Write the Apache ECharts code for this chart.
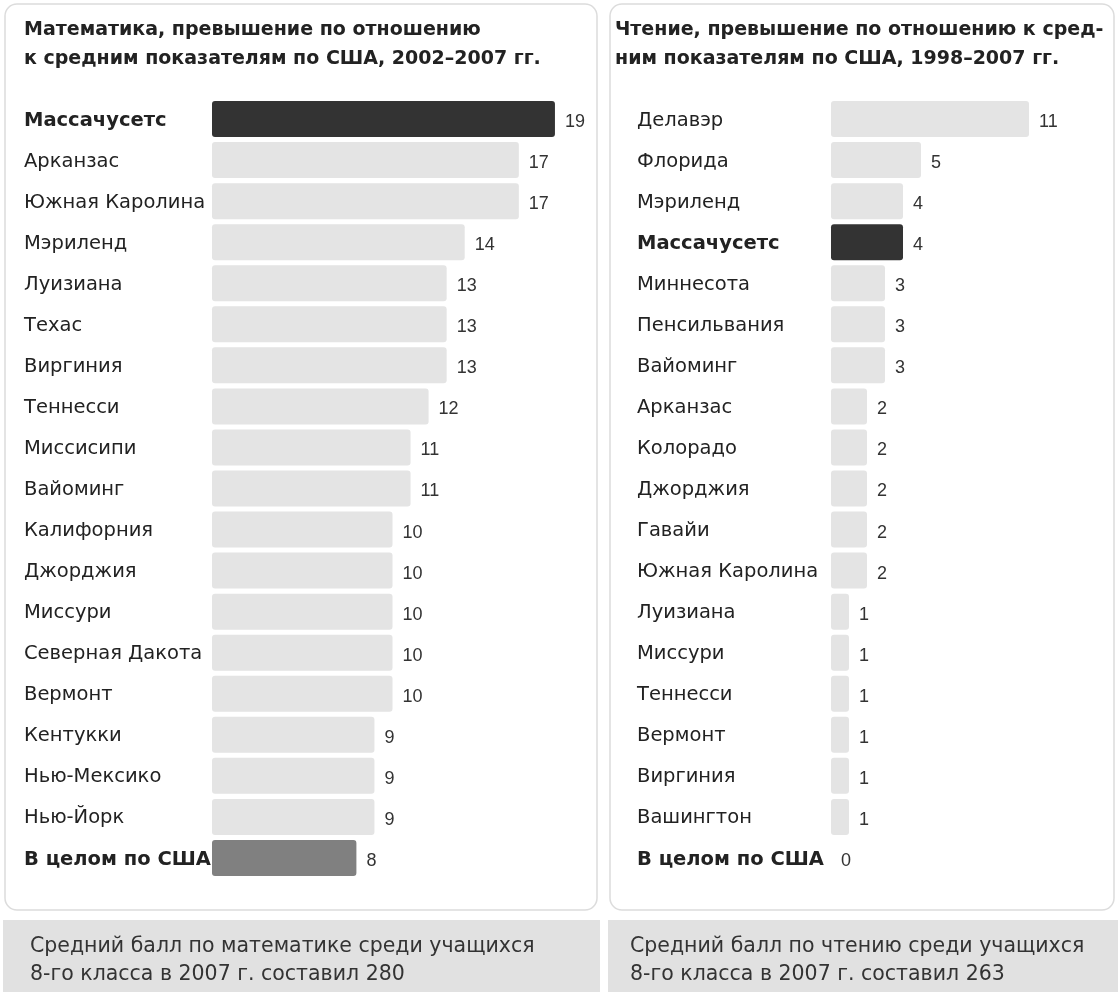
<!DOCTYPE html>
<html>
<head>
<meta charset="utf-8">
<script src="https://cdn.jsdelivr.net/npm/echarts@6/dist/echarts.min.js"></script>
<style>
  html, body { margin: 0; padding: 0; background: #ffffff; }
  #chart { width: 1118px; height: 992px; }
</style>
</head>
<body>
<div id="chart"></div>
<script>
// Математика: превышение над средним по США, 2002–2007
const mathStates = ['Массачусетс', 'Арканзас', 'Южная Каролина', 'Мэриленд', 'Луизиана', 'Техас', 'Виргиния',
  'Теннесси', 'Миссисипи', 'Вайоминг', 'Калифорния', 'Джорджия', 'Миссури', 'Северная Дакота', 'Вермонт',
  'Кентукки', 'Нью-Мексико', 'Нью-Йорк', 'В целом по США'];
const mathValues = [19, 17, 17, 14, 13, 13, 13, 12, 11, 11, 10, 10, 10, 10, 10, 9, 9, 9, 8];

// Чтение: превышение над средним по США, 1998–2007
const readStates = ['Делавэр', 'Флорида', 'Мэриленд', 'Массачусетс', 'Миннесота', 'Пенсильвания', 'Вайоминг',
  'Арканзас', 'Колорадо', 'Джорджия', 'Гавайи', 'Южная Каролина', 'Луизиана', 'Миссури', 'Теннесси',
  'Вермонт', 'Виргиния', 'Вашингтон', 'В целом по США'];
const readValues = [11, 5, 4, 4, 3, 3, 3, 2, 2, 2, 2, 2, 1, 1, 1, 1, 1, 1, 0];

const mathTitle = 'Математика, превышение по отношению\nк средним показателям по США, 2002–2007 гг.';
const readTitle = 'Чтение, превышение по отношению к сред-\nним показателям по США, 1998–2007 гг.';
const mathNote = 'Средний балл по математике среди учащихся\n8-го класса в 2007 г. составил 280';
const readNote = 'Средний балл по чтению среди учащихся\n8-го класса в 2007 г. составил 263';

const FOCUS = 'Массачусетс';
const TOTAL = 'В целом по США';
const FONT = '"DejaVu Sans", sans-serif';
const NUM_FONT = '"Liberation Sans", Arial, sans-serif';

function barColor(name) {
  if (name === FOCUS) return '#333333';
  if (name === TOTAL) return '#808080';
  return '#e4e4e4';
}

function makeSeries(states, values, idx) {
  return {
    type: 'bar',
    xAxisIndex: idx,
    yAxisIndex: idx,
    barWidth: 36,
    z: 5,
    data: values.map((v, i) => ({
      value: v,
      itemStyle: { color: barColor(states[i]), borderRadius: 3 }
    })),
    label: {
      show: true,
      position: 'right',
      distance: 10,
      offset: [0, 3],
      color: '#333333',
      fontFamily: NUM_FONT,
      fontSize: 18
    }
  };
}

function categoryAxis(states, idx, margin) {
  return {
    type: 'category',
    gridIndex: idx,
    data: states,
    inverse: true,
    axisLine: { show: false },
    axisTick: { show: false },
    axisLabel: {
      margin: margin,
      align: 'left',
      fontFamily: FONT,
      fontSize: 19.5,
      color: '#222222',
      padding: [3, 0, 0, 0],
      formatter: v => (v === FOCUS || v === TOTAL) ? '{b|' + v + '}' : v,
      rich: { b: { fontWeight: 'bold', fontFamily: FONT, fontSize: 19.5, color: '#222222' } }
    }
  };
}

function valueAxis(idx, max) {
  return {
    type: 'value', gridIndex: idx, min: 0, max: max,
    show: false, splitLine: { show: false }
  };
}

const chart = echarts.init(document.getElementById('chart'));
chart.setOption({
  animation: false,
  backgroundColor: '#ffffff',
  graphic: [
    { type: 'rect', z: 0, shape: { x: 5, y: 4, width: 592, height: 906, r: 12 },
      style: { fill: '#ffffff', stroke: '#dcdcdc', lineWidth: 1.5 } },
    { type: 'rect', z: 0, shape: { x: 610, y: 4, width: 504, height: 906, r: 12 },
      style: { fill: '#ffffff', stroke: '#dcdcdc', lineWidth: 1.5 } },
    { type: 'rect', z: 0, shape: { x: 3, y: 920, width: 597, height: 72 },
      style: { fill: '#e1e1e1' } },
    { type: 'rect', z: 0, shape: { x: 608, y: 920, width: 510, height: 72 },
      style: { fill: '#e1e1e1' } }
  ],
  title: [
    { text: mathTitle, left: 19, top: 11,
      textStyle: { fontFamily: FONT, fontSize: 19, fontWeight: 'bold', color: '#222222', lineHeight: 29 } },
    { text: readTitle, left: 610, top: 11,
      textStyle: { fontFamily: FONT, fontSize: 19, fontWeight: 'bold', color: '#222222', lineHeight: 29 } },
    { text: mathNote, left: 25, top: 928,
      textStyle: { fontFamily: FONT, fontSize: 20.5, fontWeight: 'normal', color: '#333333', lineHeight: 28 } },
    { text: readNote, left: 625, top: 928,
      textStyle: { fontFamily: FONT, fontSize: 20.5, fontWeight: 'normal', color: '#333333', lineHeight: 28 } }
  ],
  grid: [
    { left: 212, top: 98.5, width: 361, height: 780 },
    { left: 831, top: 98.5, width: 270, height: 780 }
  ],
  xAxis: [valueAxis(0, 20), valueAxis(1, 15)],
  yAxis: [categoryAxis(mathStates, 0, 188), categoryAxis(readStates, 1, 194)],
  series: [makeSeries(mathStates, mathValues, 0), makeSeries(readStates, readValues, 1)]
});
</script>
</body>
</html>
